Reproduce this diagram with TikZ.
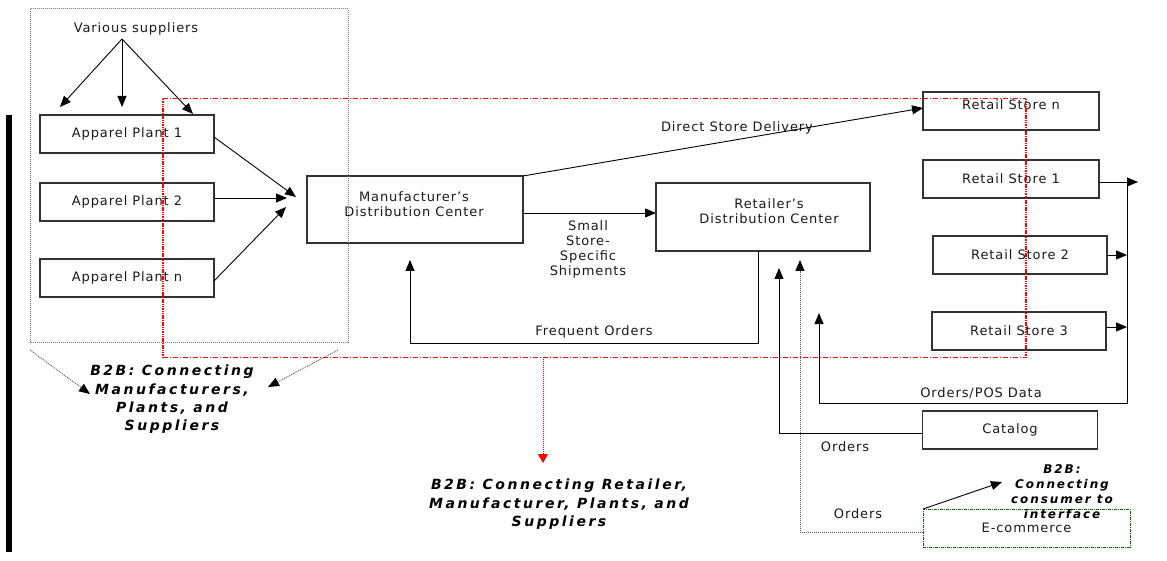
\documentclass[tikz,border=0pt]{standalone}
\usepackage{fontspec}
\setmainfont{DejaVu Sans}[LetterSpace=7]
\newfontfamily\bfifam{DejaVu Sans}[LetterSpace=18]
\newfontfamily\bfisfam{DejaVu Sans}[LetterSpace=16]
\usetikzlibrary{arrows.meta,calc}
\definecolor{bluedot}{RGB}{110,110,230}
\definecolor{ecgreen}{RGB}{0,110,0}
\begin{document}
\begin{tikzpicture}[x=1pt,y=-1pt,
  >={Triangle[length=11pt,width=9pt]},
  box/.style={draw=black!80,line width=1.1pt,inner sep=0pt,outer sep=0pt,rectangle,
    font=\fontsize{13}{15}\selectfont,text=black!90,align=center},
  txt/.style={inner sep=0pt,font=\fontsize{13}{15}\selectfont,text=black!90,align=center},
  bfi/.style={inner sep=0pt,font=\bfifam\fontsize{14}{18.4}\selectfont\bfseries\itshape,align=center},
  bfis/.style={inner sep=0pt,font=\bfisfam\fontsize{12}{15}\selectfont\bfseries\itshape,align=center},
  conn/.style={line width=0.9pt,->},
  reddash/.style={draw=red,line width=1pt,dash pattern=on 5pt off 2pt on 1pt off 2pt},
  reddot/.style={draw=red,line width=1.3pt,dash pattern=on 1.5pt off 0.8pt},
  graydot/.style={draw=black!65,line width=0.9pt,dash pattern=on 1pt off 1pt},
  blacktip/.style={-{Triangle[length=11pt,width=9pt,color=black]}},
]
\useasboundingbox (0,0) rectangle (1167,561);

% left black bar
\fill[black] (6,115) rectangle (12,552);

% boxes
\node[box,minimum width=174pt,minimum height=38pt] (p1) at (127,134) {Apparel Plant 1};
\node[box,minimum width=174pt,minimum height=38pt] (p2) at (127,202) {Apparel Plant 2};
\node[box,minimum width=174pt,minimum height=38pt] (pn) at (127,278) {Apparel Plant n};
\node[box,minimum width=216pt,minimum height=67pt] (mdc) at (415,209.5) {};
\node[txt] (mdct) at (414,204) {Manufacturer’s\\Distribution Center};
\node[box,minimum width=214pt,minimum height=68pt] (rdc) at (763,217) {};
\node[txt] (rdct) at (769,211) {Retailer’s\\Distribution Center};
\node[box,minimum width=176pt,minimum height=38pt] (rsn) at (1011,111) {};
\node[txt] (rsnt) at (1011,105) {Retail Store n};
\node[box,minimum width=176pt,minimum height=38pt] (rs1) at (1011,179) {Retail Store 1};
\node[box,minimum width=174pt,minimum height=38pt] (rs2) at (1020,255) {Retail Store 2};
\node[box,minimum width=174pt,minimum height=38pt] (rs3) at (1019,331) {Retail Store 3};
\node[box,minimum width=175pt,minimum height=38pt] (cat) at (1010,430) {Catalog};
\node[box,draw=ecgreen,line width=1pt,dash pattern=on 3pt off 1pt on 1pt off 1pt,minimum width=207pt,minimum height=38pt] (ecom) at (1026.5,528) {E-commerce};

% labels
\node[txt] (sup) at (136,29) {Various suppliers};
\node[txt] (dsd) at (737,128) {Direct Store Delivery};
\node[txt] (sss) at (588,249.5) {Small\\Store-\\Specific\\Shipments};
\node[txt] (fo) at (594,332) {Frequent Orders};
\node[txt] (pos) at (981,393) {Orders/POS Data};
\node[txt] (ord1) at (845,447) {Orders};
\node[txt] (ord2) at (858,514) {Orders};
\node[bfi] (b2bm) at (172,399.5) {B2B: Connecting\\Manufacturers,\\Plants, and\\Suppliers};
\node[bfi] (b2br) at (559,504.5) {B2B: Connecting Retailer,\\Manufacturer, Plants, and\\Suppliers};
\node[bfis] (b2bc) at (1062,492) {B2B:\\Connecting\\consumer to\\interface};

% coordinates
\coordinate (supO) at (122,39);
\coordinate (s1) at (60,107);
\coordinate (s2) at (122,107);
\coordinate (s3) at (193,114);
\coordinate (m1) at (296,197);
\coordinate (m2) at (287,198);
\coordinate (m3) at (286,207);
\coordinate (rs1e) at (1138,182);
\coordinate (busT) at (1127,182);
\coordinate (busB) at (1127,403);
\coordinate (posL) at (819,403);
\coordinate (posT) at (819,313);
\coordinate (catC) at (779,433);
\coordinate (catT) at (779,268);
\coordinate (ecC) at (800,532);
\coordinate (ecT) at (800,260);
\coordinate (ecArr) at (1002,482);
\coordinate (foB) at (758,343);
\coordinate (foL) at (410,343);
\coordinate (foT) at (410,260);
\coordinate (bl1) at (30,350);
\coordinate (bl1e) at (90,394);
\coordinate (bl2) at (338,350);
\coordinate (bl2e) at (268,387);
\coordinate (rdA) at (543,357);
\coordinate (rdB) at (543,463);

% supplier arrows
\draw[conn] (supO) -- (s1);
\draw[conn] (supO) -- (s2);
\draw[conn] (supO) -- (s3);

% plants to manufacturer
\draw[conn] ($(p1.east)+(0,3)$) -- (m1);
\draw[conn] ($(p2.east)+(0,-4)$) -- (m2);
\draw[conn] ($(pn.east)+(0,3)$) -- (m3);

% manufacturer to stores / retailer
\draw[conn] (mdc.north east) -- ($(rsn.west)+(0,-3)$);
\draw[conn] ($(mdc.east)+(0,3.5)$) -- ($(rdc.west)+(0,-4)$);

% frequent orders
\draw[conn] ($(rdc.south)+(-5,0)$) -- (foB) -- (foL) -- (foT);

% retail stores to bus
\draw[conn] ($(rs1.east)+(0,3)$) -- (rs1e);
\draw[conn] (rs2.east) -- ($(busT|-rs2.east)$);
\draw[conn] ($(rs3.east)+(0,-4)$) -- ($(busT|-rs3.east)+(0,-4)$);
\draw[conn] (busT) -- (busB) -- (posL) -- (posT);

% catalog orders
\draw[conn] ($(cat.west)+(0,3)$) -- (catC) -- (catT);

% e-commerce orders
\draw[graydot,blacktip] ($(ecom.west)+(0,4)$) -- (ecC) -- (ecT);
\draw[conn] (ecom.north west) -- (ecArr);

% B2B manufacturers dotted arrows
\draw[graydot,blacktip] (bl1) -- (bl1e);
\draw[graydot,blacktip] (bl2) -- (bl2e);

% blue dotted region
\draw[bluedot,line width=1pt,dash pattern=on 1pt off 1pt] (30,9) rectangle (348,342);

% red region
\draw[reddash] (163,99) -- (1026,99);
\draw[reddash] (163,357) -- (1026,357);
\draw[reddot] (163,99) -- (163,357);
\draw[reddot] (1026,99) -- (1026,357);
\draw[red,line width=0.8pt,dash pattern=on 1pt off 1pt,-{Triangle[length=9pt,width=10pt]}] (rdA) -- (rdB);
\end{tikzpicture}
\end{document}
